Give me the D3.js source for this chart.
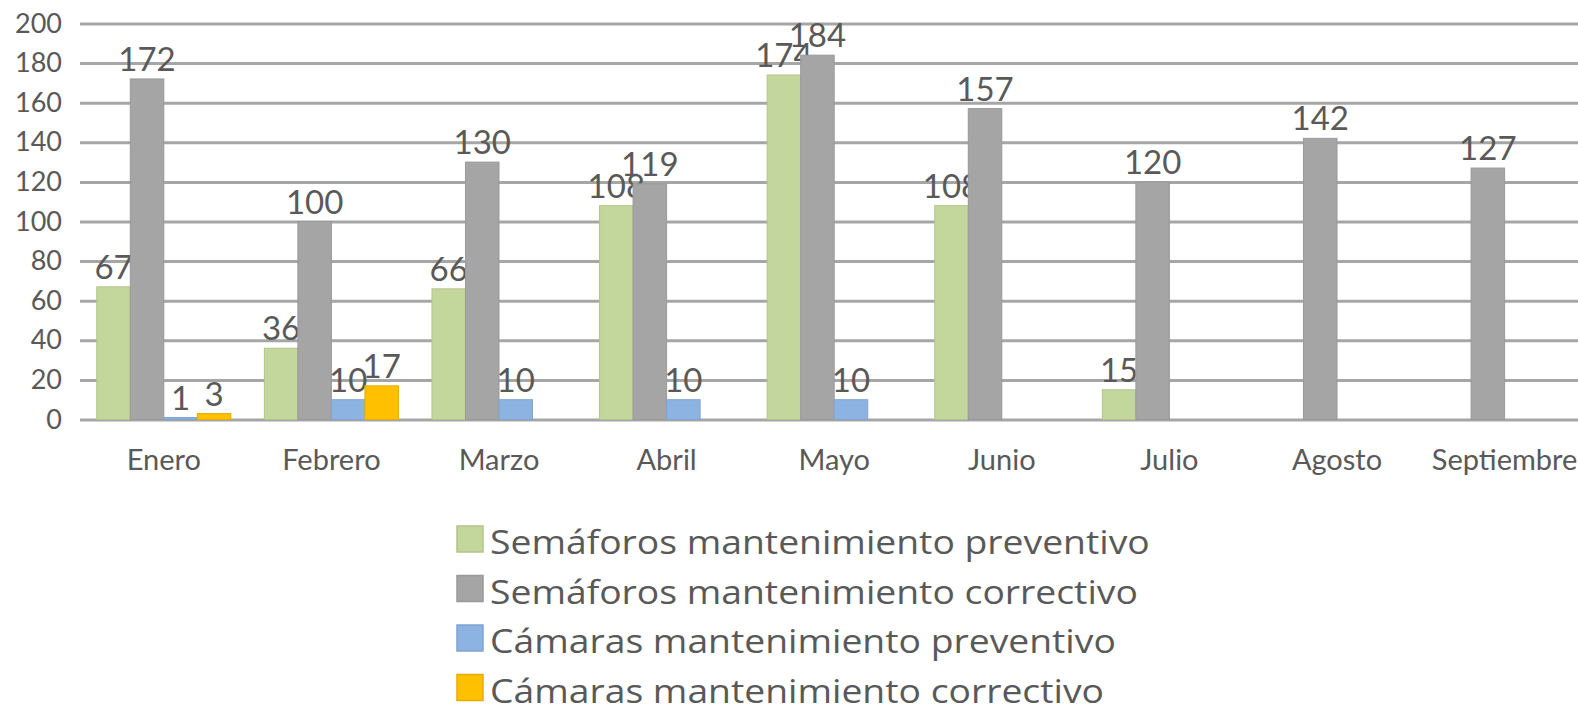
<!DOCTYPE html>
<html>
<head>
<meta charset="utf-8">
<script src="https://cdn.jsdelivr.net/npm/d3@7"></script>
<style>
  html, body { margin: 0; padding: 0; background: #ffffff; }
  svg { display: block; }
</style>
</head>
<body>
<svg id="chart" width="1578" height="711"></svg>
<script>
// Monthly maintenance counts: traffic lights and cameras
const months = ["Enero", "Febrero", "Marzo", "Abril", "Mayo", "Junio", "Julio", "Agosto", "Septiembre"];
const semaforosPreventivo = [67, 36, 66, 108, 174, 108, 15, null, null];
const semaforosCorrectivo = [172, 100, 130, 119, 184, 157, 120, 142, 127];
const camarasPreventivo = [1, 10, 10, 10, 10, null, null, null, null];
const camarasCorrectivo = [3, 17, null, null, null, null, null, null, null];
const yTicks = [0, 20, 40, 60, 80, 100, 120, 140, 160, 180, 200];

const seriesNames = [
  "Semáforos mantenimiento preventivo",
  "Semáforos mantenimiento correctivo",
  "Cámaras mantenimiento preventivo",
  "Cámaras mantenimiento correctivo"
];
const seriesValues = [semaforosPreventivo, semaforosCorrectivo, camarasPreventivo, camarasCorrectivo];
const fills = ["#c3d69b", "#a5a5a5", "#8db3e2", "#ffc000"];
const strokes = ["#b2c48a", "#999999", "#7fa3cf", "#e6ad00"];

const svg = d3.select("#chart");
const W = 1578;
const plotLeft = 80;
const step = 167.6;

const x0 = d3.scaleBand()
  .domain(months)
  .range([plotLeft, plotLeft + step * months.length])
  .paddingInner(0.2)
  .paddingOuter(0.1);

const x1 = d3.scaleBand()
  .domain(d3.range(seriesNames.length))
  .range([0, x0.bandwidth()])
  .padding(0);

const y = d3.scaleLinear().domain([0, 200]).range([419.5, 23.5]);

// gridlines and value axis
const yAxis = svg.append("g")
  .attr("transform", `translate(${plotLeft},0)`)
  .call(d3.axisLeft(y).tickValues(yTicks).tickSize(-(W - plotLeft)).tickPadding(18));
yAxis.select(".domain").remove();
yAxis.selectAll(".tick line")
  .attr("stroke", "#a6a6a6")
  .attr("stroke-width", 3);
yAxis.selectAll(".tick text")
  .attr("fill", "#595959")
  .style("font-family", "Lato, 'Open Sans', sans-serif")
  .style("font-size", "27px");

// category labels
const xAxis = svg.append("g")
  .attr("transform", `translate(0,${y(0)})`)
  .call(d3.axisBottom(x0).tickSize(0).tickPadding(30));
xAxis.select(".domain").remove();
xAxis.selectAll(".tick text")
  .attr("fill", "#595959")
  .style("font-family", "Lato, 'Open Sans', sans-serif")
  .style("font-size", "29px");

// bars
const groups = svg.append("g").selectAll("g")
  .data(months)
  .join("g")
  .attr("transform", d => `translate(${x0(d)},0)`);

const cells = groups.selectAll("g.cell")
  .data((m, i) => seriesValues.map((vals, s) => ({ s, v: vals[i] })).filter(d => d.v !== null))
  .join("g")
  .attr("class", "cell");

cells.append("rect")
  .attr("x", d => x1(d.s))
  .attr("y", d => y(d.v))
  .attr("width", x1.bandwidth())
  .attr("height", d => y(0) - y(d.v))
  .attr("fill", d => fills[d.s])
  .attr("stroke", d => strokes[d.s])
  .attr("stroke-width", 1);

cells.append("text")
  .attr("x", d => x1(d.s) + x1.bandwidth() / 2)
  .attr("y", d => y(d.v) - 8)
  .attr("text-anchor", "middle")
  .attr("fill", "#595959")
  .style("font-family", "Lato, 'Open Sans', sans-serif")
  .style("font-size", "33px")
  .text(d => d.v);

// legend
const legend = svg.append("g").attr("transform", "translate(457,554)");
const rows = legend.selectAll("g")
  .data(seriesNames)
  .join("g")
  .attr("transform", (d, i) => `translate(0,${i * 49.5})`);
rows.append("rect")
  .attr("x", 0)
  .attr("y", -28)
  .attr("width", 26)
  .attr("height", 26)
  .attr("fill", (d, i) => fills[i])
  .attr("stroke", (d, i) => strokes[i])
  .attr("stroke-width", 1.5);
// legend entries are set in a slightly widened face
const legendStretch = 1.13;
rows.append("text")
  .attr("x", 33)
  .attr("y", 0)
  .attr("fill", "#595959")
  .style("font-family", "'Open Sans', 'Noto Sans', sans-serif")
  .style("font-size", "33px")
  .text(d => d)
  .each(function () {
    const w = this.getComputedTextLength();
    d3.select(this)
      .attr("textLength", w * legendStretch)
      .attr("lengthAdjust", "spacingAndGlyphs");
  });
</script>
</body>
</html>
